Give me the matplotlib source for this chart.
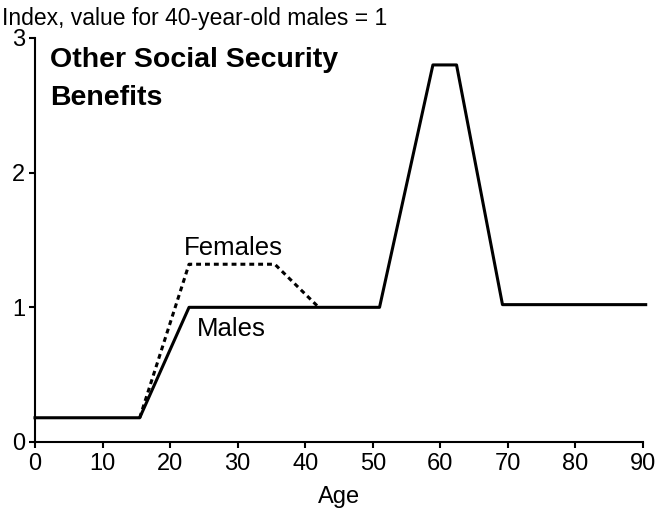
import matplotlib.pyplot as plt
import numpy as np

plt.rcParams['font.family'] = ['Liberation Sans', 'DejaVu Sans']

# data
males_age = [0, 15.5, 22.8, 51, 58.9, 62.4, 69.2, 90.4]
males_val = [0.18, 0.18, 1.0, 1.0, 2.8, 2.8, 1.02, 1.02]
females_age = [15.5, 22.8, 35.5, 42]
females_val = [0.18, 1.32, 1.32, 1.0]
xticks = np.arange(0, 91, 10)
yticks = [0, 1, 2, 3]

fig = plt.figure(figsize=(6.58, 5.16), dpi=100)
ax = fig.add_axes([35/658, 74/516, 608/658, 404/516])

ax.plot(males_age, males_val, color='black', lw=2.2, solid_joinstyle='round', clip_on=False)
ax.plot(females_age, females_val, color='black', lw=2.2, ls=(0, (1.6, 1.3)), clip_on=False)

ax.set_xlim(0, 90)
ax.set_ylim(0, 3)
ax.set_xticks(xticks)
ax.set_yticks(yticks)
for s in ['top', 'right']:
    ax.spines[s].set_visible(False)
ax.spines['left'].set_linewidth(1.5)
ax.spines['bottom'].set_linewidth(1.5)
ax.tick_params(length=4, width=1.5, labelsize=17, pad=3)
ax.tick_params(axis='x', pad=4)
ax.set_xlabel('Age', fontsize=17, labelpad=8)

ax.text(2.2, 2.93, 'Other Social Security\nBenefits', fontsize=20.5, fontweight='bold',
        va='top', ha='left', linespacing=1.6)
ax.text(22.0, 1.44, 'Females', fontsize=18.5, va='center', ha='left')
ax.text(23.9, 0.84, 'Males', fontsize=18.5, va='center', ha='left')
fig.text(2/658, 1 - 18/516, 'Index, value for 40-year-old males = 1', fontsize=16.5,
         va='center', ha='left')

fig.savefig('out.png', dpi=100)
